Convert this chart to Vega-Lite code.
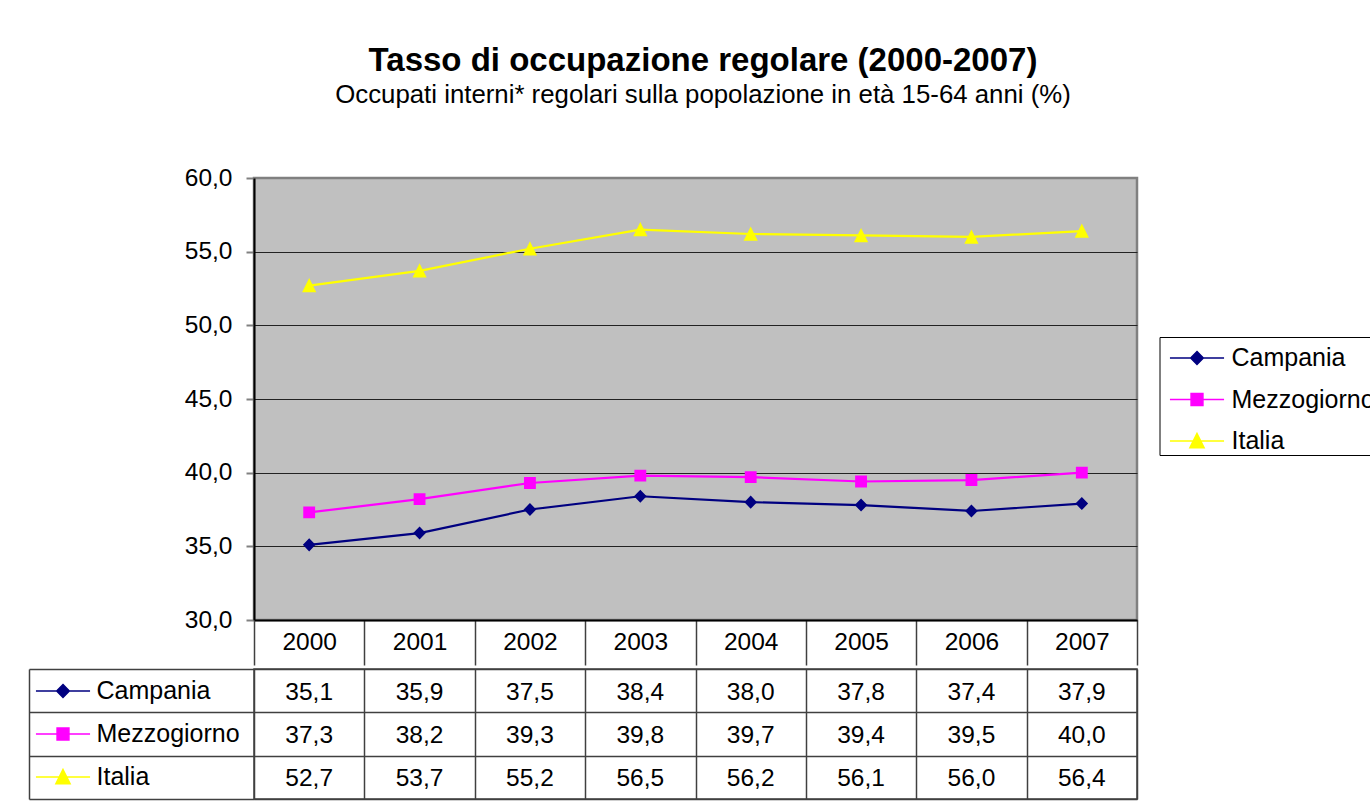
{
  "$schema": "https://vega.github.io/schema/vega-lite/v6.json",
  "padding": {"left": 24, "top": 44, "right": 0, "bottom": 4},
  "background": "white",
  "data": {"values": [
    {"year": "2000", "serie": "Campania", "value": 35.1},
    {"year": "2001", "serie": "Campania", "value": 35.9},
    {"year": "2002", "serie": "Campania", "value": 37.5},
    {"year": "2003", "serie": "Campania", "value": 38.4},
    {"year": "2004", "serie": "Campania", "value": 38.0},
    {"year": "2005", "serie": "Campania", "value": 37.8},
    {"year": "2006", "serie": "Campania", "value": 37.4},
    {"year": "2007", "serie": "Campania", "value": 37.9},
    {"year": "2000", "serie": "Mezzogiorno", "value": 37.3},
    {"year": "2001", "serie": "Mezzogiorno", "value": 38.2},
    {"year": "2002", "serie": "Mezzogiorno", "value": 39.3},
    {"year": "2003", "serie": "Mezzogiorno", "value": 39.8},
    {"year": "2004", "serie": "Mezzogiorno", "value": 39.7},
    {"year": "2005", "serie": "Mezzogiorno", "value": 39.4},
    {"year": "2006", "serie": "Mezzogiorno", "value": 39.5},
    {"year": "2007", "serie": "Mezzogiorno", "value": 40.0},
    {"year": "2000", "serie": "Italia", "value": 52.7},
    {"year": "2001", "serie": "Italia", "value": 53.7},
    {"year": "2002", "serie": "Italia", "value": 55.2},
    {"year": "2003", "serie": "Italia", "value": 56.5},
    {"year": "2004", "serie": "Italia", "value": 56.2},
    {"year": "2005", "serie": "Italia", "value": 56.1},
    {"year": "2006", "serie": "Italia", "value": 56.0},
    {"year": "2007", "serie": "Italia", "value": 56.4}
  ]},
  "title": {
    "text": "Tasso di occupazione regolare (2000-2007)",
    "subtitle": "Occupati interni* regolari sulla popolazione in età 15-64 anni (%)",
    "font": "Liberation Sans", "fontSize": 33, "fontWeight": "bold", "color": "black",
    "subtitleFont": "Liberation Sans", "subtitleFontSize": 25.8, "subtitleColor": "black",
    "anchor": "middle", "dx": 2, "subtitlePadding": 5, "offset": 56
  },
  "config": {
    "locale": {"number": {"decimal": ",", "thousands": ".", "grouping": [3], "currency": ["", " €"]}},
    "font": "Liberation Sans",
    "axis": {"labelFont": "Liberation Sans", "labelColor": "black"},
    "legend": {"labelFont": "Liberation Sans", "labelColor": "black"}
  },
  "spacing": 0,
  "resolve": {
    "scale": {"x": "independent", "y": "independent", "color": "shared", "shape": "shared"},
    "legend": {"color": "independent", "shape": "independent"}
  },
  "vconcat": [
    {
      "width": 883, "height": 442,
      "view": {"fill": "#C0C0C0", "stroke": "#808080", "strokeWidth": 2.5},
      "encoding": {
        "x": {"field": "year", "type": "ordinal",
          "scale": {"type": "band", "paddingInner": 0, "paddingOuter": 0},
          "axis": {"orient": "bottom", "title": null, "labelAngle": 0, "domainColor": "black", "domainWidth": 2,
            "tickBand": "extent", "tickSize": 45, "tickColor": "#404040", "tickWidth": 1.5,
            "labelFontSize": 24.5, "labelBaseline": "middle", "labelPadding": -23, "grid": false}},
        "y": {"field": "value", "type": "quantitative",
          "scale": {"domain": [30, 60], "nice": false, "zero": false},
          "axis": {"title": null, "values": [30, 35, 40, 45, 50, 55, 60], "format": ".1f",
            "grid": true, "gridColor": {"condition": {"test": "datum.value == 60", "value": "#808080"}, "value": "#222"}, "gridWidth": 1,
            "domainColor": "black", "domainWidth": 2, "tickColor": "#808080", "tickWidth": 2, "tickSize": 8,
            "labelFontSize": 24.5, "labelPadding": 14}}
      },
      "layer": [
        {"mark": {"type": "line", "strokeWidth": 2.2},
         "encoding": {"stroke": {"field": "serie", "type": "nominal",
            "scale": {"domain": ["Campania", "Mezzogiorno", "Italia"], "range": ["#000080", "#FF00FF", "#FFFF00"]},
            "legend": null}}},
        {"mark": {"type": "point", "filled": true, "size": 1560, "opacity": 1},
         "encoding": {
           "color": {"field": "serie", "type": "nominal",
             "scale": {"domain": ["Campania", "Mezzogiorno", "Italia"], "range": ["#000080", "#FF00FF", "#FFFF00"]},
             "legend": {"orient": "none", "legendX": 905.5, "legendY": 159, "title": null, "strokeColor": "black", "fillColor": "white",
               "padding": 0.5, "rowPadding": 7.5, "symbolSize": 1560, "symbolStrokeWidth": 1.5, "symbolOffset": 16.5, "labelOffset": 14,
               "labelFontSize": 25, "labelLimit": 400, "symbolOpacity": 1,
               "encode": {"symbols": {"update": {"stroke": {"scale": "color", "field": "value"}, "strokeWidth": {"value": 1.5}, "opacity": {"value": 1}}}}}},
           "shape": {"field": "serie", "type": "nominal",
             "scale": {"domain": ["Campania", "Mezzogiorno", "Italia"], "range": [
               "M-1.37,0H1.37M0,-0.33L0.32,0L0,0.33L-0.32,0Z",
               "M-1.37,0H1.37M-0.3,-0.3H0.3V0.3H-0.3Z",
               "M-1.37,0H1.37M0,-0.38L0.36,0.34H-0.36Z"]},
             "legend": {"orient": "none", "legendX": 905.5, "legendY": 159, "title": null, "strokeColor": "black", "fillColor": "white",
               "padding": 0.5, "rowPadding": 7.5, "symbolSize": 1560, "symbolStrokeWidth": 1.5, "symbolOffset": 16.5, "labelOffset": 14,
               "labelFontSize": 25, "labelLimit": 400, "symbolOpacity": 1,
               "encode": {"symbols": {"update": {"stroke": {"scale": "color", "field": "value"}, "strokeWidth": {"value": 1.5}, "opacity": {"value": 1}}}}}}
         }}
      ]
    },
    {
      "width": 883, "height": 130,
      "view": {"fill": "white", "stroke": "#404040", "strokeWidth": 1.5},
      "encoding": {
        "x": {"field": "year", "type": "ordinal",
          "scale": {"type": "band", "paddingInner": 0, "paddingOuter": 0},
          "axis": {"orient": "top", "title": null, "grid": true, "gridColor": "#404040", "gridWidth": 1.5, "tickBand": "extent",
            "labels": false, "ticks": false, "domain": false}}
      },
      "layer": [
        {"mark": {"type": "text", "fontSize": 24.5, "font": "Liberation Sans", "color": "black", "dy": 2},
         "encoding": {
           "y": {"field": "serie", "type": "nominal", "sort": ["Campania", "Mezzogiorno", "Italia"],
             "scale": {"type": "band", "paddingInner": 0, "paddingOuter": 0},
             "axis": {"orient": "left", "title": null, "offset": 225, "domain": true, "domainColor": "#404040", "domainWidth": 1.5,
               "ticks": true, "tickSize": -225, "tickColor": "#404040", "tickWidth": 1.5, "tickBand": "extent", "labels": false, "grid": false}},
           "text": {"field": "value", "type": "quantitative", "format": ".1f"}
         }},
        {"mark": {"type": "point", "opacity": 0, "filled": true},
         "encoding": {
           "y": {"field": "serie", "type": "nominal", "sort": ["Campania", "Mezzogiorno", "Italia"],
             "scale": {"type": "band", "paddingInner": 0, "paddingOuter": 0},
             "axis": {"orient": "right", "title": null, "grid": true, "gridColor": "#404040", "gridWidth": 1.5, "tickBand": "extent",
               "labels": false, "ticks": false, "domain": false}},
           "color": {"field": "serie", "type": "nominal",
             "scale": {"domain": ["Campania", "Mezzogiorno", "Italia"], "range": ["#000080", "#FF00FF", "#FFFF00"]},
             "legend": {"orient": "none", "legendX": -228.5, "legendY": 1, "title": null,
               "padding": 0.5, "rowPadding": 9, "symbolSize": 1560, "symbolStrokeWidth": 1.5, "symbolOffset": 16.5, "labelOffset": 13,
               "labelFontSize": 25, "labelLimit": 400, "symbolOpacity": 1,
               "encode": {"symbols": {"update": {"stroke": {"scale": "color", "field": "value"}, "strokeWidth": {"value": 1.5}, "opacity": {"value": 1}}}}}},
           "shape": {"field": "serie", "type": "nominal",
             "scale": {"domain": ["Campania", "Mezzogiorno", "Italia"], "range": [
               "M-1.37,0H1.37M0,-0.33L0.32,0L0,0.33L-0.32,0Z",
               "M-1.37,0H1.37M-0.3,-0.3H0.3V0.3H-0.3Z",
               "M-1.37,0H1.37M0,-0.38L0.36,0.34H-0.36Z"]},
             "legend": {"orient": "none", "legendX": -228.5, "legendY": 1, "title": null,
               "padding": 0.5, "rowPadding": 9, "symbolSize": 1560, "symbolStrokeWidth": 1.5, "symbolOffset": 16.5, "labelOffset": 13,
               "labelFontSize": 25, "labelLimit": 400, "symbolOpacity": 1,
               "encode": {"symbols": {"update": {"stroke": {"scale": "color", "field": "value"}, "strokeWidth": {"value": 1.5}, "opacity": {"value": 1}}}}}}
         }}
      ],
      "resolve": {"axis": {"y": "independent"}}
    }
  ]
}
